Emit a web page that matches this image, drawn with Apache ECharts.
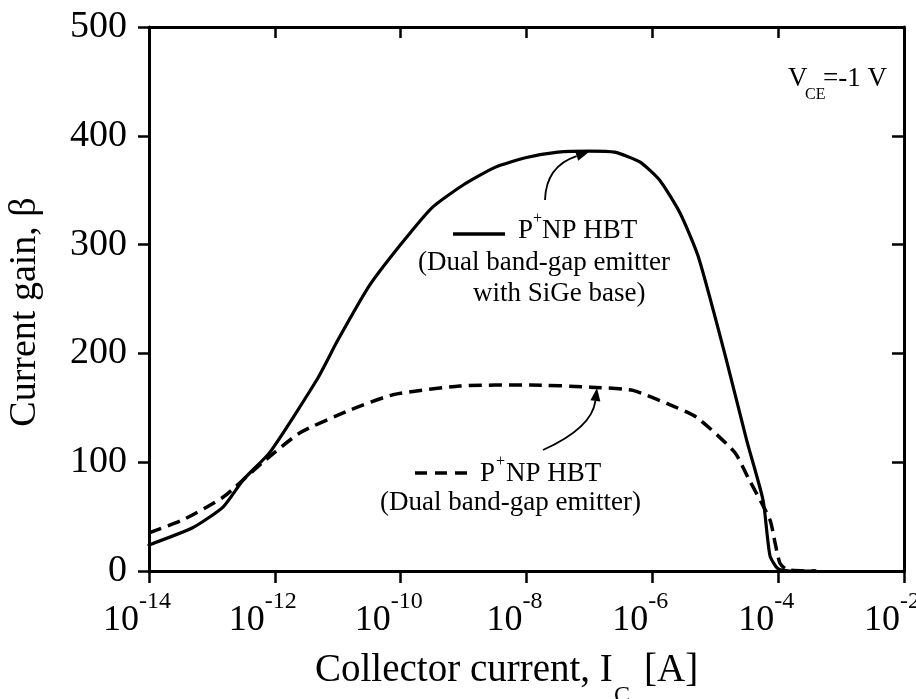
<!DOCTYPE html>
<html><head><meta charset="utf-8">
<script src="https://cdn.jsdelivr.net/npm/echarts@6/dist/echarts.min.js"></script>
<style>html,body{margin:0;padding:0;background:#fff}#c{width:916px;height:699px}</style>
</head><body><div id="c"></div>
<script>
// log10 of collector current [A] (x, decades) and current gain beta (y)
const solidLogI = [-14, -13.3, -12.82, -12.5, -12.08, -11.33, -11, -10.5, -10, -9.5, -9, -8.5, -8, -7.5, -7, -6.6, -6.2, -5.88, -5.56, -5.27, -4.85, -4.5, -4.24, -4.13, -4.0, -3.8, -3.4];
const solidGain = [24, 40, 59, 84, 109, 176, 212, 262, 300, 334, 355, 371, 380, 385, 386, 385, 376, 359, 329, 289, 200, 120, 65, 14, 2, 0, 0];
const dashLogI = [-14, -13.46, -12.82, -12.19, -11.6, -10.8, -10.12, -9.06, -7.94, -6.99, -6.31, -5.77, -5.29, -4.69, -4.48, -4.13, -4.05, -3.97, -3.85, -3.4];
const dashGain = [35, 47, 68, 100, 127, 148, 162, 170, 171, 169, 166, 154, 141, 109, 86, 47, 26, 7, 1, 0];
const xMinExp = -14, xMaxExp = -2, xStepExp = 2;
const yMin = 0, yMax = 500, yStep = 100;

const FONT = 'Liberation Serif';
const chart = echarts.init(document.getElementById('c'), null, {renderer: 'canvas'});

function arrow(x0, y0, cx, cy, x1, y1) {
  let dx = x1 - cx, dy = y1 - cy; const l = Math.hypot(dx, dy); dx /= l; dy /= l;
  const L = 13, w = 5, bx = x1 - dx * L, by = y1 - dy * L;
  return [
    {type: 'bezierCurve', shape: {x1: x0, y1: y0, cpx1: cx, cpy1: cy, x2: bx, y2: by}, style: {stroke: '#000', lineWidth: 1.8, fill: null}, z: 10},
    {type: 'polygon', shape: {points: [[x1, y1], [bx - dy * w, by + dx * w], [bx + dy * w, by - dx * w]]}, style: {fill: '#000'}, z: 10}
  ];
}
function txt(x, y, s, size, align) {
  return {type: 'text', x: x, y: y, z: 10, style: {text: s, font: size + 'px "' + FONT + '"', fill: '#000', align: align || 'left', verticalAlign: 'middle'}};
}

const axisLineStyle = {color: '#000', width: 3};
const tickStyle = {color: '#000', width: 2.5};

const option = {
  animation: false,
  backgroundColor: '#fff',
  grid: {left: 149, right: 12, top: 27, bottom: 128, containLabel: false, outerBoundsMode: 'none'},
  xAxis: [{
    type: 'value', min: xMinExp, max: xMaxExp, interval: xStepExp,
    position: 'bottom',
    axisLine: {show: true, onZero: false, lineStyle: axisLineStyle},
    axisTick: {show: true, inside: false, length: 12, lineStyle: tickStyle},
    minorTick: {show: false}, splitLine: {show: false},
    axisLabel: {
      show: true, margin: 18.5, color: '#000', padding: [0, 24, 0, 0],
      formatter: function (v) { return '{b|10}{s|' + v + '}'; },
      rich: {
        b: {fontFamily: FONT, fontSize: 36, lineHeight: 63, verticalAlign: 'middle', color: '#000'},
        s: {fontFamily: FONT, fontSize: 24, lineHeight: 24, verticalAlign: 'top', color: '#000'}
      }
    }
  }, {
    type: 'value', min: xMinExp, max: xMaxExp, interval: xStepExp,
    position: 'top',
    axisLine: {show: true, onZero: false, lineStyle: axisLineStyle},
    axisTick: {show: true, inside: true, length: 11, lineStyle: tickStyle},
    minorTick: {show: false}, splitLine: {show: false}, axisLabel: {show: false}
  }],
  yAxis: [{
    type: 'value', min: yMin, max: yMax, interval: yStep, position: 'left',
    axisLine: {show: true, onZero: false, lineStyle: axisLineStyle},
    axisTick: {show: true, inside: false, length: 11, lineStyle: tickStyle},
    splitLine: {show: false},
    axisLabel: {margin: 22, color: '#000', fontFamily: FONT, fontSize: 38}
  }, {
    type: 'value', min: yMin, max: yMax, interval: yStep, position: 'right',
    axisLine: {show: true, onZero: false, lineStyle: axisLineStyle},
    axisTick: {show: true, inside: true, length: 12, lineStyle: tickStyle},
    splitLine: {show: false}, axisLabel: {show: false}
  }],
  series: [{
    type: 'line', xAxisIndex: 0, yAxisIndex: 0, showSymbol: false, symbol: 'none', smooth: 0.2,
    data: solidLogI.map((e, i) => [e, solidGain[i]]),
    lineStyle: {color: '#000', width: 3.2, cap: 'round', join: 'round'}
  }, {
    type: 'line', xAxisIndex: 0, yAxisIndex: 0, showSymbol: false, symbol: 'none', smooth: 0.2,
    data: dashLogI.map((e, i) => [e, dashGain[i]]),
    lineStyle: {color: '#000', width: 3.5, type: [13, 7], cap: 'butt', join: 'round'}
  }],
  graphic: [].concat(
    arrow(545, 200, 546, 166, 589, 152),
    arrow(543, 450, 592, 428, 597, 388),
    [
      {type: 'line', shape: {x1: 453, y1: 234, x2: 505, y2: 234}, style: {stroke: '#000', lineWidth: 3.5}, z: 10},
      txt(518, 240 - 9.1, 'P', 27), txt(533, 219, '+', 16), txt(542, 240 - 9.1, 'NP HBT', 27),
      txt(670, 272 - 9.1, '(Dual band-gap emitter', 27, 'right'),
      txt(473, 303 - 9.1, 'with SiGe base)', 27),
      {type: 'line', shape: {x1: 415, y1: 473, x2: 472, y2: 473}, style: {stroke: '#000', lineWidth: 3.5, lineDash: [12, 8]}, z: 10},
      txt(480, 483 - 9.1, 'P', 27), txt(496, 462, '+', 16), txt(506, 483 - 9.1, 'NP HBT', 27),
      txt(380, 512 - 9.1, '(Dual band-gap emitter)', 27),
      txt(788, 88 - 9.1, 'V', 27), txt(805, 100 - 5.4, 'CE', 16), txt(823, 88 - 9.1, '=-1 V', 27),
      txt(315, 684 - 13.2, 'Collector current, I', 39), txt(614, 704 - 8.1, 'C', 24), txt(644, 684 - 13.2, '[A]', 39),
      {type: 'text', x: 25, y: 312, rotation: Math.PI / 2, z: 10,
        style: {text: 'Current gain, β', font: '38px "' + FONT + '"', fill: '#000', align: 'center', verticalAlign: 'middle'}}
    ]
  )
};
chart.setOption(option);
</script></body></html>
